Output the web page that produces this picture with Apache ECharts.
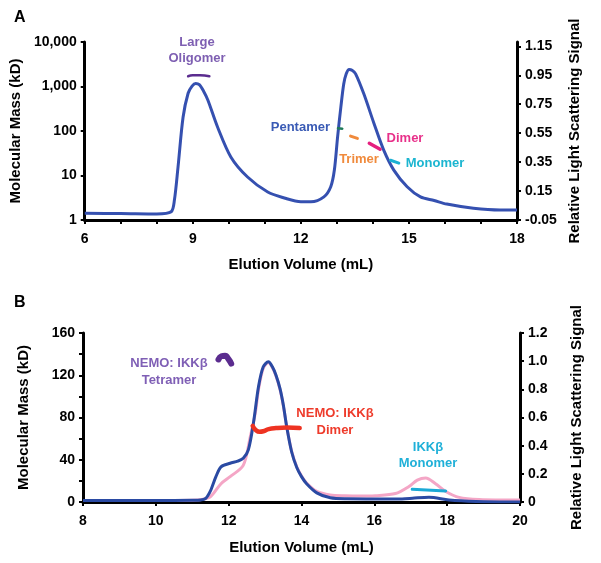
<!DOCTYPE html>
<html><head><meta charset="utf-8">
<script src="https://cdn.jsdelivr.net/npm/echarts@6/dist/echarts.min.js"></script>
<style>html,body{margin:0;padding:0;background:#fff}#c{width:601px;height:563px}</style>
</head><body><div id="c"></div>
<script>
// Panel A: light scattering trace (right axis units)
const volA = [6.0,7.0,8.0,8.4,8.49,8.59,8.73,8.87,8.98,9.08,9.18,9.3,9.42,9.69,10.06,10.52,11.08,11.54,12.0,12.28,12.64,12.83,12.93,13.02,13.11,13.19,13.26,13.34,13.42,13.52,13.75,14.03,14.3,14.58,14.95,15.32,15.7,16.05,16.79,17.53,18.0];
const lsA  = [-0.004,-0.005,-0.008,0.007,0.088,0.316,0.66,0.826,0.875,0.893,0.885,0.84,0.778,0.591,0.384,0.247,0.143,0.102,0.076,0.076,0.11,0.18,0.295,0.525,0.73,0.89,0.96,0.99,0.985,0.96,0.82,0.617,0.433,0.295,0.18,0.11,0.085,0.06,0.031,0.019,0.019];
const rightTicksA = [-0.05,0.15,0.35,0.55,0.75,0.95,1.15];
// Panel A molar mass segments (kD, log axis)
const oligoVol = [8.87,9.0,9.2,9.46];  const oligoMass = [1700,1780,1780,1700];
const pentVol = [13.03,13.15];          const pentMass = [115,113];
const triVol = [13.38,13.57];           const triMass = [77,68];
const dimVol = [13.9,14.2];             const dimMass = [53,39];
const monoVol = [14.49,14.72];          const monoMass = [22,19];
// Panel B light scattering traces (right axis units)
const volBblue = [8.0,9.0,10.0,11.0,11.23,11.37,11.51,11.65,11.79,12.04,12.25,12.4,12.54,12.68,12.82,12.95,13.09,13.2,13.3,13.41,13.5,13.6,13.73,13.87,14.0,14.14,14.42,14.79,15.24,16.03,16.76,17.1,17.5,18.05,18.79,20.0];
const lsBblue  = [0.01,0.01,0.01,0.012,0.014,0.026,0.085,0.18,0.25,0.275,0.29,0.31,0.37,0.56,0.82,0.96,0.995,0.96,0.90,0.805,0.69,0.525,0.355,0.245,0.18,0.13,0.065,0.03,0.023,0.022,0.022,0.028,0.033,0.014,0.004,0.0];
const volBpink = [8.0,9.0,10.0,11.0,11.3,11.51,11.79,12.04,12.4,12.59,12.73,12.82,12.95,13.09,13.2,13.3,13.41,13.5,13.6,13.73,13.87,14.0,14.14,14.42,14.79,15.2,15.6,16.03,16.58,16.95,17.18,17.41,17.68,17.96,18.33,18.88,20.0];
const lsBpink  = [0.01,0.01,0.01,0.012,0.02,0.04,0.13,0.18,0.26,0.46,0.63,0.8,0.95,0.99,0.955,0.895,0.80,0.685,0.525,0.36,0.25,0.185,0.135,0.075,0.05,0.044,0.042,0.045,0.06,0.11,0.155,0.17,0.13,0.075,0.033,0.018,0.014];
// Panel B molar mass segments (kD)
const tetVol = [11.72,11.8,11.9,12.0,12.07];  const tetMass = [135,138,138.5,135,131];
const nDimVol = [12.66,12.75,12.85,12.95,13.1,13.3,13.6,13.95]; const nDimMass = [72,68,66.5,67,69,70,70.5,70];
const ikkVol = [17.04,17.96]; const ikkMass = [12,10.5];

const zip = (a,b) => a.map((v,i)=>[v,b[i]]);
const F = 'Liberation Sans, Arial, sans-serif';
const axLine = {show:true, onZero:false, lineStyle:{color:'#000', width:3}};
const tick = {show:true, length:4, lineStyle:{color:'#000', width:2}};
const lab = {color:'#000', fontFamily:F, fontWeight:'bold', fontSize:14};
const nameStyle = {color:'#000', fontFamily:F, fontWeight:'bold', fontSize:15};

const chart = echarts.init(document.getElementById('c'));
const seg = (name, vol, mass, color, w, xi, yi) => ({name, type:'line', xAxisIndex:xi, yAxisIndex:yi, data:zip(vol,mass), showSymbol:false, smooth:true, lineStyle:{color, width:w, cap:'round'}, z:5, silent:true});
const trace = (name, vol, v, color, xi, yi, z) => ({name, type:'line', xAxisIndex:xi, yAxisIndex:yi, data:zip(vol,v), showSymbol:false, smooth:0.3, lineStyle:{color, width:3}, z});
const txt = (x,y,t,c,align) => ({type:'text', x, y, style:{text:t, fill:c, font:'bold 13px '+F, textAlign:align||'center', textVerticalAlign:'middle'}});

chart.setOption({
  animation:false,
  grid:[{left:83, top:42, width:434, height:178}, {left:83, top:333, width:437, height:169}],
  xAxis:[
    {type:'value', gridIndex:0, min:6, max:18, interval:3, axisLine:axLine, axisTick:tick,
     minorTick:{show:true, splitNumber:3, length:4, lineStyle:{color:'#000', width:2}},
     axisLabel:Object.assign({margin:12}, lab), splitLine:{show:false},
     name:'Elution Volume (mL)', nameLocation:'middle', nameGap:37, nameTextStyle:nameStyle},
    {type:'value', gridIndex:1, min:8, max:20, interval:2, axisLine:axLine, axisTick:tick,
     axisLabel:Object.assign({margin:12}, lab), splitLine:{show:false},
     name:'Elution Volume (mL)', nameLocation:'middle', nameGap:38, nameTextStyle:nameStyle}
  ],
  yAxis:[
    {type:'log', gridIndex:0, logBase:10, min:1, max:10000, axisLine:axLine, axisTick:tick,
     axisLabel:Object.assign({margin:8, formatter:v=>Number(v).toLocaleString('en-US')}, lab), splitLine:{show:false},
     name:'Molecular Mass (kD)', nameLocation:'middle', nameGap:52, nameTextStyle:nameStyle},
    {type:'value', gridIndex:0, position:'right', min:-0.05, max:1.18,
     axisLine:axLine, axisTick:Object.assign({customValues:rightTicksA}, tick),
     axisLabel:Object.assign({margin:8, customValues:rightTicksA, formatter:v=>v.toFixed(2)}, lab), splitLine:{show:false},
     name:'Relative Light Scattering Signal', nameLocation:'middle', nameGap:49, nameRotate:90, nameTextStyle:nameStyle},
    {type:'value', gridIndex:1, min:0, max:160, interval:40, axisLine:axLine, axisTick:tick,
     minorTick:{show:true, splitNumber:2, length:4, lineStyle:{color:'#000', width:2}},
     axisLabel:Object.assign({margin:8}, lab), splitLine:{show:false}, minorSplitLine:{show:false},
     name:'Molecular Mass (kD)', nameLocation:'middle', nameGap:52, nameTextStyle:nameStyle},
    {type:'value', gridIndex:1, position:'right', min:0, max:1.2, interval:0.2, axisLine:axLine, axisTick:tick,
     axisLabel:Object.assign({margin:8, formatter:v=>v===0?'0':v.toFixed(1)}, lab), splitLine:{show:false},
     name:'Relative Light Scattering Signal', nameLocation:'middle', nameGap:49, nameRotate:90, nameTextStyle:nameStyle}
  ],
  series:[
    trace('LS A', volA, lsA, '#3550B0', 0, 1, 3),
    seg('Large Oligomer', oligoVol, oligoMass, '#5B2C8F', 2.5, 0, 0),
    seg('Pentamer', pentVol, pentMass, '#1F7A5A', 2.5, 0, 0),
    seg('Trimer', triVol, triMass, '#F08A3C', 3, 0, 0),
    seg('Dimer', dimVol, dimMass, '#E5207F', 3.5, 0, 0),
    seg('Monomer', monoVol, monoMass, '#1BB0D3', 3, 0, 0),
    trace('LS B pink', volBpink, lsBpink, '#F4A6C6', 1, 3, 2),
    trace('LS B blue', volBblue, lsBblue, '#2A4AA3', 1, 3, 3),
    seg('Tetramer', tetVol, tetMass, '#5B2C8F', 6, 1, 2),
    seg('NEMO Dimer', nDimVol, nDimMass, '#EE3322', 4.5, 1, 2),
    seg('IKK Monomer', ikkVol, ikkMass, '#1BA9D6', 3, 1, 2)
  ],
  graphic:[
    {type:'text', x:14, y:10, style:{text:'A', fill:'#000', font:'bold 16px '+F}},
    {type:'text', x:14, y:295, style:{text:'B', fill:'#000', font:'bold 16px '+F}},
    txt(197,42,'Large','#7E5FB2'), txt(197,58,'Oligomer','#7E5FB2'),
    txt(330,127,'Pentamer','#3A5BB5','right'),
    txt(359,159,'Trimer','#F08A3C'),
    txt(405,138,'Dimer','#E8318A'),
    txt(435,163,'Monomer','#1BB5D0'),
    txt(169,363,'NEMO: IKK\u03B2','#7F5FB5'), txt(169,380,'Tetramer','#7F5FB5'),
    txt(335,413,'NEMO: IKK\u03B2','#EE3B2B'), txt(335,430,'Dimer','#EE3B2B'),
    txt(428,447,'IKK\u03B2','#1FB0D8'), txt(428,463,'Monomer','#1FB0D8')
  ]
});
</script></body></html>
